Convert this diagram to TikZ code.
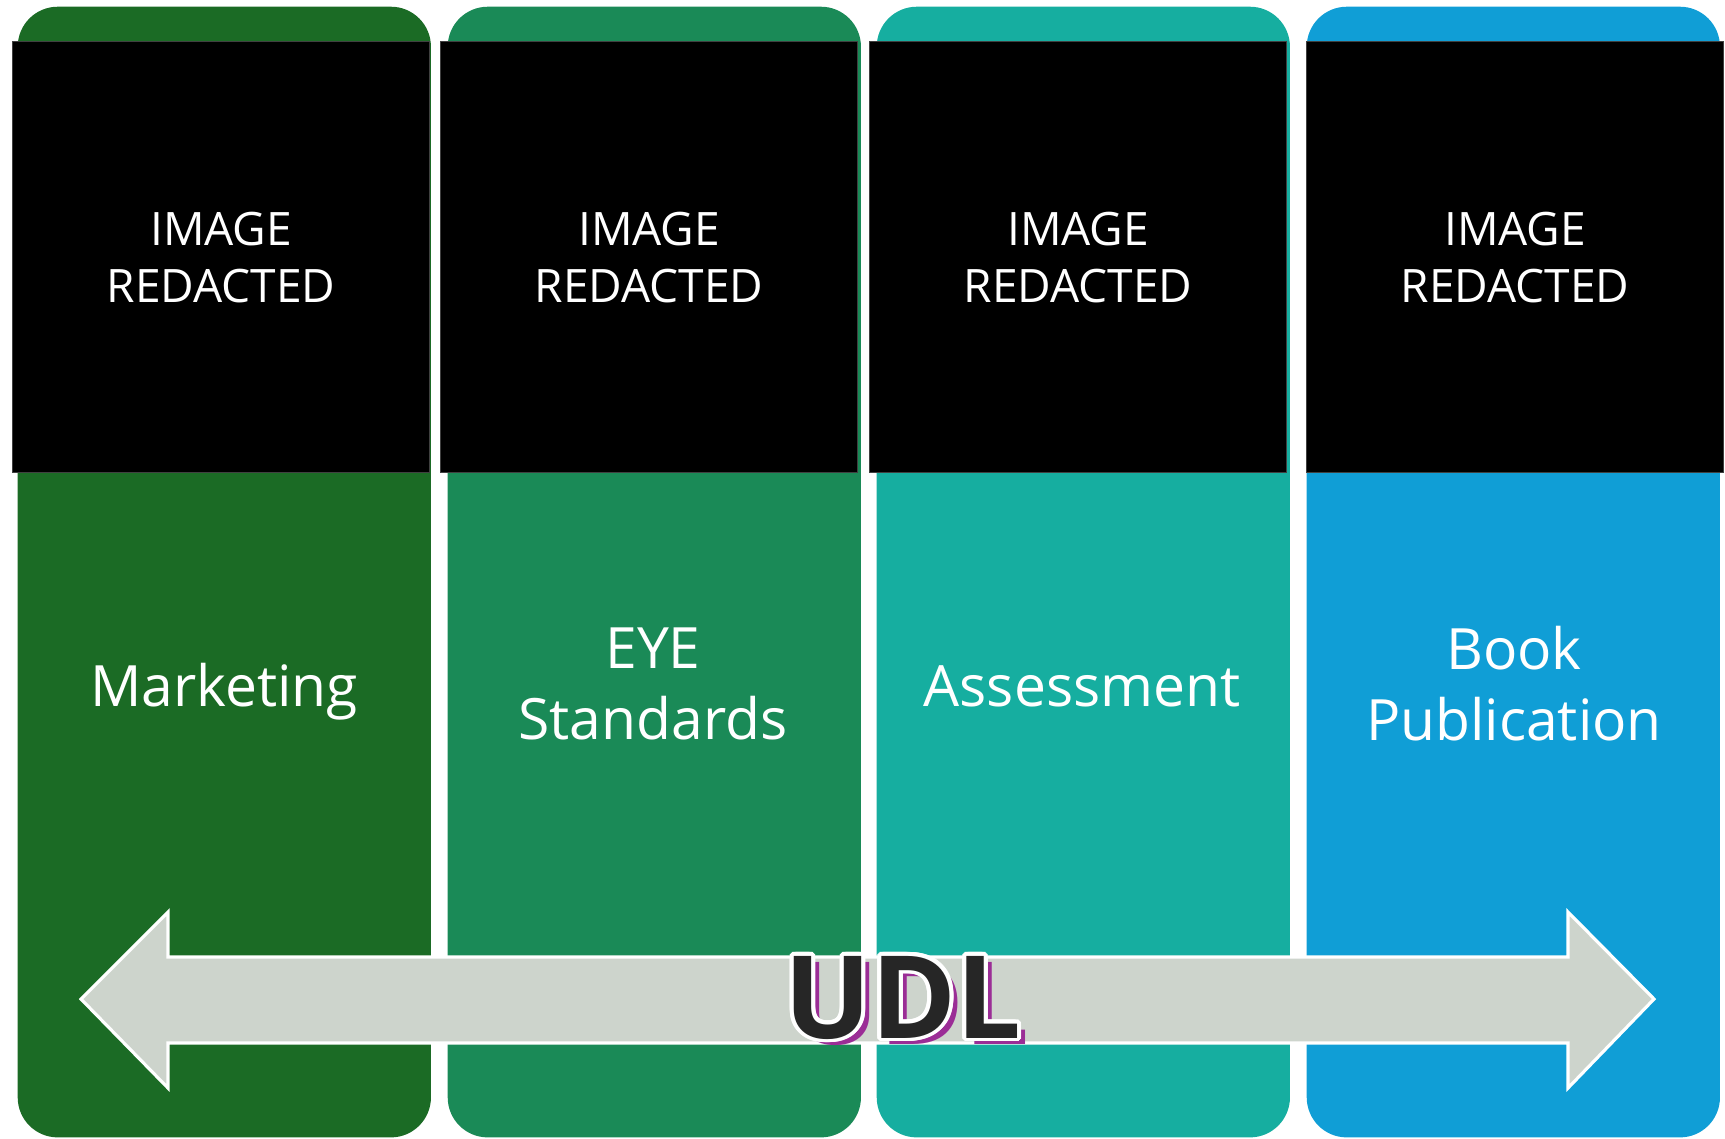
\documentclass[tikz,border=0pt]{standalone}
\usepackage{fontspec}
\setmainfont{Open Sans}
\usetikzlibrary{calc}

\definecolor{colA}{RGB}{27,107,37}
\definecolor{colB}{RGB}{26,138,87}
\definecolor{colC}{RGB}{22,174,160}
\definecolor{colD}{RGB}{16,158,214}
\definecolor{arrowgray}{RGB}{205,212,204}
\definecolor{udldark}{RGB}{38,38,38}
\definecolor{udlpurple}{RGB}{155,45,150}

\tikzset{
  colbox/.style={rounded corners=0.4cm, minimum width=4.13cm, minimum height=11.30cm,
    anchor=north west, inner sep=0pt},
  imgbox/.style={fill=black, draw=black!75, line width=0.3pt, minimum width=4.17cm,
    minimum height=4.31cm, anchor=north west, inner sep=0pt, text=white, align=center,
    font=\fontsize{13.1}{16.2}\selectfont},
  label/.style={text=white, align=center, font=\fontsize{16.2}{20.2}\selectfont},
  blockarrow/.style={fill=arrowgray, draw=white, line width=0.9pt, line join=miter},
  udl/.style={anchor=base, inner sep=0pt, font=\fontsize{32.7}{34}\selectfont\bfseries}
}

\begin{document}
\begin{tikzpicture}[x=0.01cm, y=-0.01cm]
  \useasboundingbox (0,0) rectangle (1725,1138);

  % coloured columns
  \node[colbox, fill=colA] (col1) at (17,6) {};
  \node[colbox, fill=colB] (col2) at (447,6) {};
  \node[colbox, fill=colC] (col3) at (876,6) {};
  \node[colbox, fill=colD] (col4) at (1306,6) {};

  % placeholders for the pictures
  \node[imgbox] (img1) at (12,41) {IMAGE\\REDACTED};
  \node[imgbox] (img2) at (440,41) {IMAGE\\REDACTED};
  \node[imgbox] (img3) at (869,41) {IMAGE\\REDACTED};
  \node[imgbox] (img4) at (1306,41) {IMAGE\\REDACTED};

  % column titles (one-line titles sit on a common baseline)
  \node[label, anchor=base] (lab1) at (224,706) {Marketing};
  \node[label] (lab2) at (653,684) {EYE\\Standards};
  \node[label, anchor=base] (lab3) at (1082,706) {Assessment};
  \node[label] (lab4) at (1514,684) {Book\\Publication};

  % double-headed block arrow
  \draw[blockarrow] (81,999) -- (168,912) -- (168,957) -- (1568,957) -- (1568,912)
    -- (1654,999) -- (1568,1088) -- (1568,1043) -- (168,1043) -- (168,1088) -- cycle;

  % UDL lettering: shadow, white outline, dark fill
  \coordinate (udlpos) at (903,1038);
  \node[udl, text=udlpurple] at ($(udlpos)+(8,6)$) {UDL};
  \foreach \a in {0,20,...,340}
    \node[udl, text=white, shift={(\a:1.1pt)}] at (udlpos) {UDL};
  \node[udl, text=udldark] (udltext) at (udlpos) {UDL};
\end{tikzpicture}
\end{document}
